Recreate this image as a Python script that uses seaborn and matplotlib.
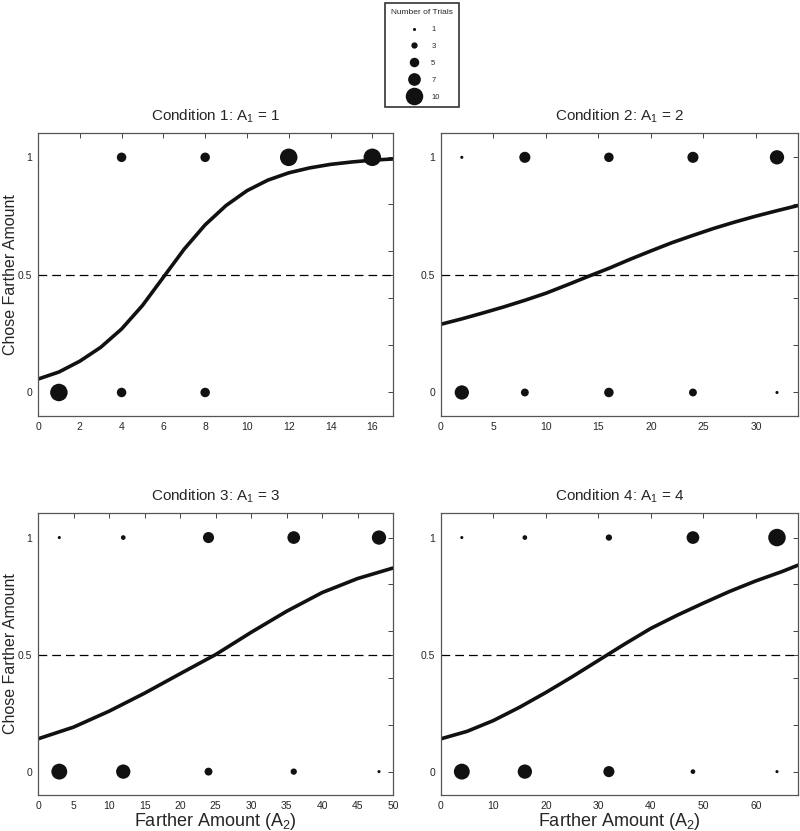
import numpy as np
import pandas as pd
import matplotlib
matplotlib.use("Agg")
import matplotlib.pyplot as plt
from matplotlib.lines import Line2D
import seaborn as sns

sns.set_theme(style="white")
plt.rcParams['font.family'] = ['Liberation Sans', 'DejaVu Sans']
plt.rcParams['mathtext.default'] = 'regular'

# trial counts (choices of farther amount = 1 / nearer = 0)
c1_x = [1, 4, 8, 12, 16]
c1_yes = [0, 5, 5, 10, 10]
c1_no = [10, 5, 5, 0, 0]

c2_x = [2, 8, 16, 24, 32]
c2_yes = [1, 6, 5, 6, 8]
c2_no = [8, 4, 5, 4, 1]

c3_x = [3, 12, 24, 36, 48]
c3_yes = [1, 2, 6, 7, 8]
c3_no = [9, 8, 4, 3, 1]

c4_x = [4, 16, 32, 48, 64]
c4_yes = [1, 2, 3, 7, 10]
c4_no = [9, 8, 6, 2, 1]

# fitted curves
fit1_x = [0, 1, 2, 3, 4, 5, 6, 7, 8, 9, 10, 11, 12, 13, 14, 15, 16, 17]
fit1_p = [0.057, 0.087, 0.133, 0.192, 0.27, 0.37, 0.49, 0.61, 0.713, 0.795, 0.858,
          0.903, 0.934, 0.955, 0.97, 0.98, 0.988, 0.993]
fit2_x = [0, 2, 4, 6, 8, 10, 12, 14, 16, 18, 20, 22, 24, 26, 28, 30, 32, 34]
fit2_p = [0.29, 0.313, 0.338, 0.364, 0.392, 0.422, 0.457, 0.493, 0.528, 0.566,
          0.602, 0.637, 0.668, 0.698, 0.725, 0.75, 0.773, 0.795]
fit3_x = [0, 5, 10, 15, 20, 25, 30, 35, 40, 45, 50]
fit3_p = [0.14, 0.19, 0.258, 0.335, 0.418, 0.50, 0.595, 0.685, 0.765, 0.825, 0.87]
fit4_x = [0, 5, 10, 15, 20, 25, 30, 35, 40, 45, 50, 55, 60, 65, 68]
fit4_p = [0.14, 0.172, 0.218, 0.275, 0.338, 0.405, 0.475, 0.545, 0.612, 0.668, 0.72,
          0.77, 0.815, 0.855, 0.882]

titles = ["Condition 1: A$_1$ = 1", "Condition 2: A$_1$ = 2",
          "Condition 3: A$_1$ = 3", "Condition 4: A$_1$ = 4"]
xlims = [17, 34, 50, 68]
xsteps = [2, 5, 5, 10]
legend_counts = [1, 3, 5, 7, 10]


def diam_pt(n):
    return (1.6 * n + 1.5) * 0.72


size_map = {n: diam_pt(n) ** 2 for n in range(1, 11)}

conds = [(c1_x, c1_yes, c1_no, fit1_x, fit1_p),
         (c2_x, c2_yes, c2_no, fit2_x, fit2_p),
         (c3_x, c3_yes, c3_no, fit3_x, fit3_p),
         (c4_x, c4_yes, c4_no, fit4_x, fit4_p)]

fig = plt.figure(figsize=(8.0, 8.31), dpi=100)
boxes = [(0.0475, 0.4994, 0.444, 0.341), (0.551, 0.4994, 0.4465, 0.341),
         (0.0475, 0.0433, 0.444, 0.3394), (0.551, 0.0433, 0.4465, 0.3394)]

for i, (xs, yes, no, fx, fp) in enumerate(conds):
    ax = fig.add_axes(boxes[i])
    df = pd.DataFrame({
        "farther": xs + xs,
        "chose": [1] * len(xs) + [0] * len(xs),
        "n": yes + no,
    })
    df = df[df["n"] > 0]
    ax.axhline(0.5, color="black", lw=0.9, dashes=(7, 4), zorder=1)
    sns.lineplot(x=fx, y=fp, ax=ax, color="#111111", lw=2.6, zorder=2)
    sns.scatterplot(data=df, x="farther", y="chose", size="n", sizes=size_map,
                    color="#111111", edgecolor="none", legend=False, ax=ax, zorder=3)
    ax.set_xlim(0, xlims[i])
    ax.set_ylim(-0.1, 1.105)
    ax.set_xticks(np.arange(0, xlims[i] + 0.1, xsteps[i]))
    ax.set_yticks([0, 0.2, 0.4, 0.5, 0.6, 0.8, 1])
    ax.set_yticklabels(["0", "", "", "0.5", "", "", "1"])
    ax.tick_params(direction="in", length=3.5, width=0.7, labelsize=7.5,
                   top=True, right=True, color="#444444", pad=4)
    for sp in ax.spines.values():
        sp.set_color("#555555")
        sp.set_linewidth(0.9)
    ax.set_title(titles[i], fontsize=11, pad=9)
    ax.set_xlabel("Farther Amount (A$_2$)" if i >= 2 else "", fontsize=13, labelpad=0)
    if i % 2 == 0:
        ax.set_ylabel("Chose Farther Amount", fontsize=11.5)
        ax.yaxis.set_label_coords(-0.057, 0.5)
    else:
        ax.set_ylabel("")

handles = [Line2D([], [], ls="none", marker="o", color="#111111",
                  markersize=diam_pt(n), markeredgewidth=0) for n in legend_counts]
leg = fig.legend(handles, [str(n) for n in legend_counts], title="Number of Trials",
                 loc="upper center", bbox_to_anchor=(0.528, 0.998), fontsize=5.5,
                 title_fontsize=6, frameon=True, fancybox=False, labelspacing=1.25,
                 handletextpad=1.2, borderpad=0.8, handlelength=2.2, borderaxespad=0.2)
leg.get_frame().set_edgecolor("black")
leg.get_frame().set_linewidth(1.2)

fig.savefig("out.png", dpi=100)
